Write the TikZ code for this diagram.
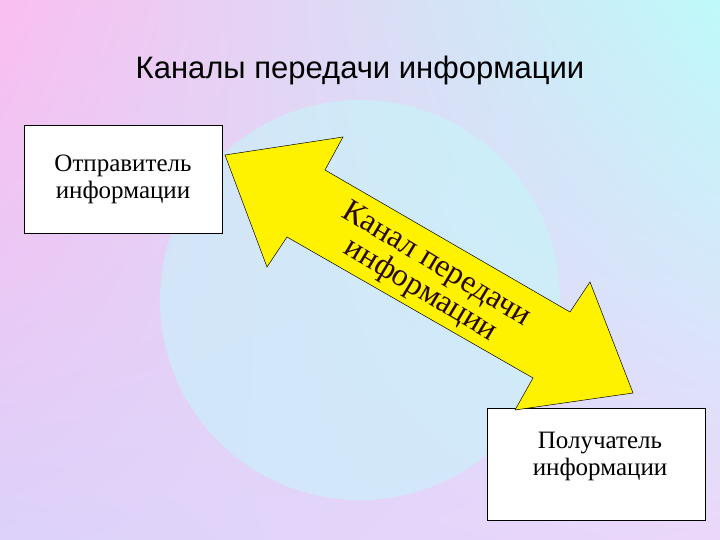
\documentclass[tikz,border=0pt]{standalone}
\usepackage{fontspec}
\usetikzlibrary{shadings}
\setmainfont{Liberation Serif}
\newfontfamily\arialf{Liberation Sans}
\definecolor{cul}{RGB}{250,190,240}
\definecolor{cur}{RGB}{190,250,250}
\definecolor{cll}{RGB}{220,210,250}
\definecolor{clr}{RGB}{235,215,250}
\definecolor{ccy}{RGB}{195,250,250}
\definecolor{txt}{RGB}{40,10,10}
\begin{document}
\begin{tikzpicture}[x=1pt,y=-1pt,
  box/.style={draw=black,fill=white,line width=0.8pt},
  lbl/.style={font=\fontsize{25}{27}\selectfont,align=center}]
\useasboundingbox (0,0) rectangle (720,540);
\shade[upper left=cul,upper right=cur,lower left=cll,lower right=clr] (0,0) rectangle (720,540);
\shade[inner color=ccy,outer color=ccy,opacity=0.5] (360,300) circle (200);
\node[font=\arialf\fontsize{31}{33}\selectfont] (title) at (360,70) {Каналы передачи информации};
\draw[box] (24,125) rectangle (222,233);
\node[lbl] (snd) at (123,179) {Отправитель\\информации};
\draw[box] (487,408) rectangle (705,520);
\node[lbl] (rcv) at (600,456) {Получатель\\информации};
\draw[fill=yellow,draw=black,line width=0.5pt]
  (225,155) -- (343,137) -- (325,170) -- (570,312) -- (590,282) -- (633,393)
  -- (515,410) -- (533,378) -- (287,237) -- (267,267) -- cycle;
\node[font=\fontsize{32}{30}\selectfont,align=center,rotate=-31,text=txt] (ch) at (428,278) {Канал передачи\\информации};
\end{tikzpicture}
\end{document}
